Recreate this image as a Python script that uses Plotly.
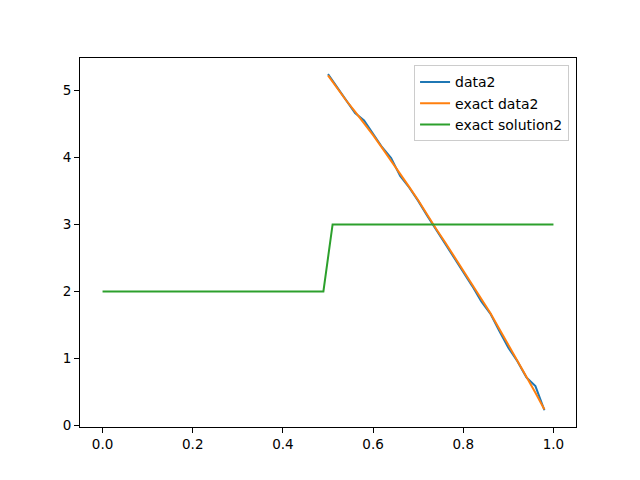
import plotly.graph_objects as go

# data2 (numerical) and exact data2 on x = 0.50 ... 0.98
x_data = [0.50, 0.52, 0.54, 0.56, 0.58, 0.60, 0.62, 0.64, 0.66, 0.68, 0.70, 0.72,
          0.74, 0.76, 0.78, 0.80, 0.82, 0.84, 0.86, 0.88, 0.90, 0.92, 0.94, 0.96, 0.98]
data2 = [5.24, 5.05, 4.86, 4.66, 4.55, 4.35, 4.15, 3.99, 3.72, 3.55, 3.35, 3.13,
         2.92, 2.71, 2.51, 2.31, 2.08, 1.85, 1.67, 1.41, 1.16, 0.96, 0.72, 0.59, 0.23]
exact_data2 = [5.22, 5.03, 4.85, 4.68, 4.51, 4.33, 4.14, 3.95, 3.75, 3.56, 3.36, 3.14,
               2.93, 2.73, 2.52, 2.32, 2.11, 1.89, 1.68, 1.44, 1.21, 0.97, 0.73, 0.49, 0.24]

# exact solution2 on 50 evenly spaced points in [0, 1]
x_sol = [i / 49 for i in range(50)]
exact_solution2 = [2] * 25 + [3] * 25

fig = go.Figure()
fig.add_trace(go.Scatter(x=x_data, y=data2, mode="lines", name="data2",
                         line=dict(color="#1f77b4", width=2)))
fig.add_trace(go.Scatter(x=x_data, y=exact_data2, mode="lines", name="exact data2",
                         line=dict(color="#ff7f0e", width=2)))
fig.add_trace(go.Scatter(x=x_sol, y=exact_solution2, mode="lines", name="exact solution2",
                         line=dict(color="#2ca02c", width=2)))

axis_common = dict(showgrid=False, zeroline=False, showline=True, linecolor="black",
                   linewidth=1, mirror=True, ticks="outside", ticklen=5, tickwidth=1,
                   tickcolor="black", tickfont=dict(family="DejaVu Sans", size=13.5, color="black"))

fig.update_layout(
    width=640, height=480,
    margin=dict(l=80, r=64, t=58, b=53),
    paper_bgcolor="white", plot_bgcolor="white",
    font=dict(family="DejaVu Sans", size=13.5, color="black"),
    xaxis=dict(range=[-0.05, 1.05], tickvals=[0, 0.2, 0.4, 0.6, 0.8, 1.0],
               ticktext=["0.0", "0.2", "0.4", "0.6", "0.8", "1.0"], **axis_common),
    yaxis=dict(range=[-0.02, 5.48], tickvals=[0, 1, 2, 3, 4, 5], **axis_common),
    legend=dict(x=0.986, y=0.98, xanchor="right", yanchor="top",
                bordercolor="#cccccc", borderwidth=1, bgcolor="rgba(255,255,255,0.8)",
                font=dict(family="DejaVu Sans", size=14), itemwidth=30,
                tracegroupgap=0),
    showlegend=True,
)

fig.write_html("out.html", config={"displayModeBar": False},
               post_script="document.body.style.margin='0';document.body.style.overflow='hidden';")
